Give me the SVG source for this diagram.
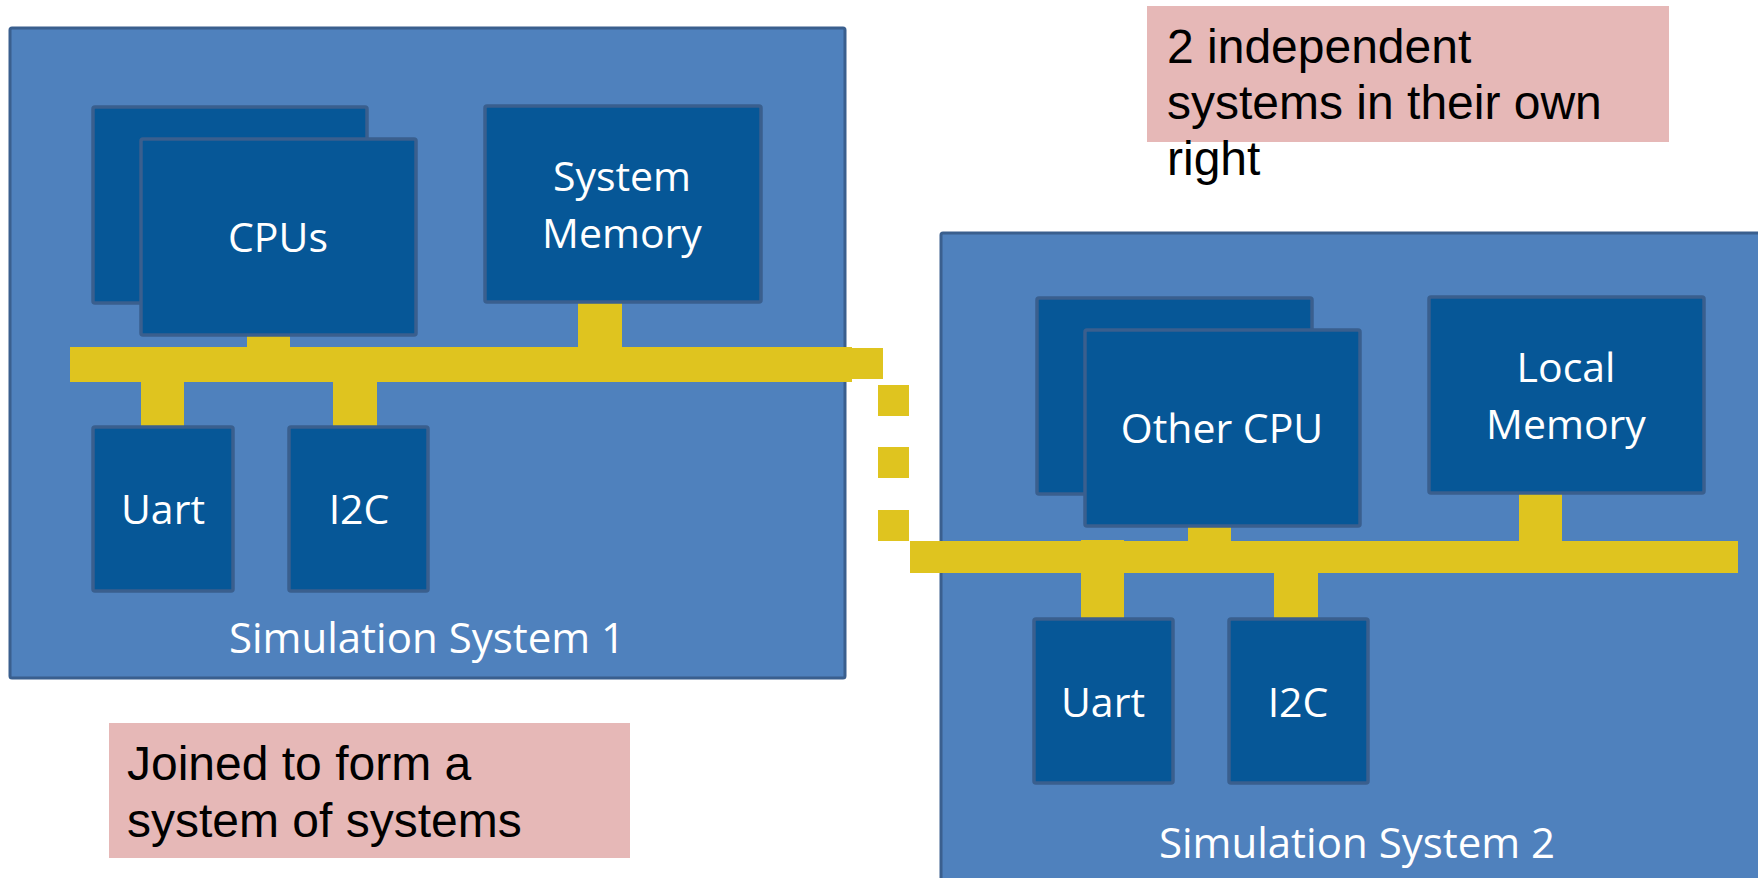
<svg xmlns="http://www.w3.org/2000/svg" width="1758" height="878" viewBox="0 0 1758 878">
<style>
.sys{fill:#4f81bd;stroke:#3a5f8e;stroke-width:3}
.blk{fill:#065797;stroke:#3a5f8e;stroke-width:3.5}
.lbl{font-family:"Open Sans","Noto Sans",sans-serif;font-size:41px;fill:#ffffff;text-anchor:middle}
.slbl{font-size:42px}
.bus{fill:#dfc41f}
.note{fill:#e6b8b7}
.ntxt{font-family:"Liberation Sans",Arial,sans-serif;font-size:48px;fill:#000000}
</style>
<rect width="1758" height="878" fill="#ffffff"/>

<g id="system1">
<rect class="sys" x="10" y="28" width="835" height="650" rx="2"/>
<text class="lbl slbl" x="427" y="653">Simulation System 1</text>
</g>

<g id="system2">
<rect class="sys" x="941" y="233" width="900" height="700" rx="2"/>
<text class="lbl slbl" x="1357" y="858">Simulation System 2</text>
</g>

<g id="connectors">
<rect class="bus" x="70" y="347" width="782" height="35"/>
<rect class="bus" x="247" y="334" width="43" height="14"/>
<rect class="bus" x="578" y="301" width="44" height="47"/>
<rect class="bus" x="141" y="381" width="43" height="47"/>
<rect class="bus" x="333" y="381" width="44" height="47"/>
<rect class="bus" x="852" y="348" width="31" height="31"/>
<rect class="bus" x="878" y="385" width="31" height="31"/>
<rect class="bus" x="878" y="447" width="31" height="31"/>
<rect class="bus" x="878" y="510" width="31" height="31"/>
<rect class="bus" x="910" y="541" width="26" height="32"/>
<rect class="bus" x="936" y="541" width="802" height="32"/>
<rect class="bus" x="1188" y="526" width="43" height="16"/>
<rect class="bus" x="1519" y="492" width="43" height="81"/>
<rect class="bus" x="1081" y="540" width="43" height="80"/>
<rect class="bus" x="1274" y="572" width="44" height="49"/>
</g>

<g id="sys1-cpus">
<rect class="blk" x="93" y="107" width="274" height="196" rx="2"/>
<rect class="blk" x="141" y="139" width="275" height="196" rx="2"/>
<text class="lbl" x="278" y="252">CPUs</text>
</g>

<g id="sys1-memory">
<rect class="blk" x="485" y="106" width="276" height="196" rx="2"/>
<text class="lbl" x="622" y="191">System</text>
<text class="lbl" x="622" y="248">Memory</text>
</g>

<g id="sys1-uart">
<rect class="blk" x="93" y="427" width="140" height="164" rx="2"/>
<text class="lbl" x="163" y="524">Uart</text>
</g>

<g id="sys1-i2c">
<rect class="blk" x="289" y="427" width="139" height="164" rx="2"/>
<text class="lbl" x="359" y="524">I2C</text>
</g>

<g id="sys2-cpu">
<rect class="blk" x="1037" y="298" width="275" height="196" rx="2"/>
<rect class="blk" x="1085" y="330" width="275" height="196" rx="2"/>
<text class="lbl" x="1222" y="443">Other CPU</text>
</g>

<g id="sys2-memory">
<rect class="blk" x="1429" y="297" width="275" height="196" rx="2"/>
<text class="lbl" x="1566" y="382">Local</text>
<text class="lbl" x="1566" y="439">Memory</text>
</g>

<g id="sys2-uart">
<rect class="blk" x="1034" y="619" width="139" height="164" rx="2"/>
<text class="lbl" x="1103" y="717">Uart</text>
</g>

<g id="sys2-i2c">
<rect class="blk" x="1229" y="619" width="139" height="164" rx="2"/>
<text class="lbl" x="1298" y="717">I2C</text>
</g>

<g id="note-independent">
<rect class="note" x="1147" y="6" width="522" height="136"/>
<text class="ntxt" x="1167" y="63">2 independent</text>
<text class="ntxt" x="1167" y="119">systems in their own</text>
<text class="ntxt" x="1167" y="175">right</text>
</g>

<g id="note-joined">
<rect class="note" x="109" y="723" width="521" height="135"/>
<text class="ntxt" x="127" y="780">Joined to form a</text>
<text class="ntxt" x="127" y="837">system of systems</text>
</g>
</svg>
